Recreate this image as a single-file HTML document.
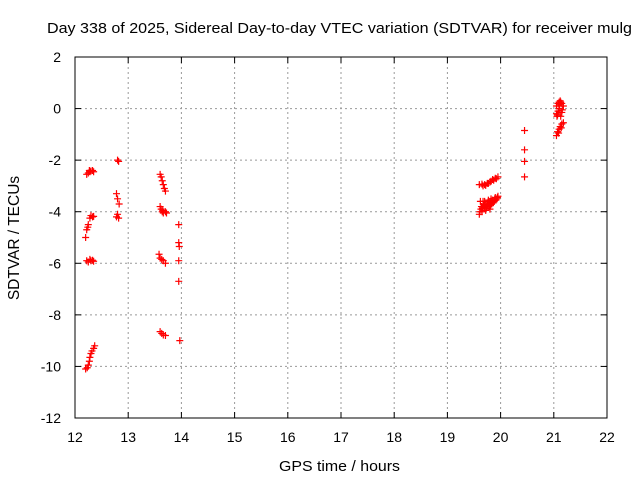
<!DOCTYPE html>
<html><head><meta charset="utf-8"><style>
body{margin:0;background:#fff}
svg{display:block;font-family:"Liberation Sans",sans-serif}
</style></head><body>
<svg id="c" width="640" height="480">
<text x="47" y="33" font-size="15" textLength="585" lengthAdjust="spacingAndGlyphs">Day 338 of 2025, Sidereal Day-to-day VTEC variation (SDTVAR) for receiver mulg</text>
<text x="279" y="471" font-size="15" textLength="121" lengthAdjust="spacingAndGlyphs">GPS time / hours</text>
<text transform="translate(19,238) rotate(-90)" text-anchor="middle" font-size="15.5">SDTVAR / TECUs</text>
<g id="grid"></g><g id="ticks"></g><g id="pts"></g>
<rect x="75" y="57" width="532" height="361" fill="none" stroke="#000" stroke-width="1"/>
</svg>
<script>
const xTicks=[12,13,14,15,16,17,18,19,20,21,22];
const yTicks=[2,0,-2,-4,-6,-8,-10,-12];
const xs=[12.22,12.25,12.28,12.3,12.33,12.35,12.27,
12.28,12.3,12.33,12.35,12.25,12.22,12.2,12.24,
12.22,12.25,12.28,12.3,12.33,12.35,
12.2,12.23,12.25,12.27,12.28,12.3,12.32,12.35,12.37,
12.8,12.82,12.78,12.8,12.83,12.8,12.82,12.78,
13.6,13.62,13.64,13.66,13.68,13.7,
13.6,13.62,13.64,13.66,13.7,13.72,13.65,
13.58,13.6,13.63,13.66,13.7,
13.6,13.63,13.66,13.7,
13.95,13.95,13.96,13.95,13.95,13.97,
19.6,19.65,19.7,19.75,19.8,19.85,19.9,19.95,19.67,19.72,19.77,19.82,19.87,19.92,
19.6,19.63,19.65,19.68,19.7,19.72,19.75,19.78,19.8,19.83,19.85,19.88,19.9,19.93,19.95,19.62,19.7,19.8,
19.61,19.64,19.66,19.69,19.71,19.74,19.76,19.79,19.81,19.84,19.86,19.89,19.91,19.94,19.67,19.73,19.77,19.82,
20.45,20.45,20.45,20.45,
21.05,21.08,21.1,21.12,21.15,21.05,21.08,21.1,21.13,21.15,21.18,21.06,21.11,21.16,21.07,21.13,
21.05,21.07,21.1,21.12,21.15,21.18,21.09,21.14];
const ys=[-2.55,-2.5,-2.45,-2.42,-2.4,-2.45,-2.4,
-4.25,-4.15,-4.2,-4.18,-4.5,-4.7,-5.0,-4.6,
-5.9,-5.95,-5.85,-5.9,-5.88,-5.92,
-10.1,-10.05,-9.95,-9.8,-9.65,-9.5,-9.4,-9.3,-9.2,
-2.0,-2.05,-3.3,-3.5,-3.7,-4.1,-4.25,-4.2,
-2.55,-2.65,-2.8,-2.95,-3.1,-3.2,
-3.8,-3.9,-4.0,-4.05,-4.0,-4.05,-3.95,
-5.65,-5.8,-5.85,-5.9,-6.0,
-8.65,-8.72,-8.78,-8.8,
-4.5,-5.2,-5.35,-5.9,-6.7,-9.0,
-2.95,-2.93,-2.95,-2.9,-2.85,-2.75,-2.7,-2.65,-3.0,-2.98,-2.9,-2.82,-2.78,-2.72,
-4.1,-3.9,-4.0,-3.7,-3.85,-3.95,-3.7,-3.8,-3.6,-3.7,-3.55,-3.6,-3.45,-3.5,-3.4,-3.6,-3.6,-3.9,
-4.0,-3.8,-3.85,-3.75,-3.75,-3.8,-3.65,-3.7,-3.75,-3.6,-3.65,-3.5,-3.55,-3.45,-3.6,-3.85,-3.55,-3.5,
-0.85,-1.6,-2.05,-2.65,
0.1,0.2,0.25,0.3,0.2,-0.2,-0.1,0,-0.3,-0.15,0.1,-0.3,0.15,-0.05,-0.25,0.25,
-1.05,-0.9,-0.8,-0.7,-0.6,-0.55,-0.95,-0.75];
const L=75,R=607,T=57,B=418;
const sx=v=>L+(v-12)/10*(R-L), sy=v=>T+(2-v)/14*(B-T);
const NS='http://www.w3.org/2000/svg';
const g=document.getElementById('grid'),tk=document.getElementById('ticks'),p=document.getElementById('pts');
function mk(tag,a,parent){const e=document.createElementNS(NS,tag);for(const k in a)e.setAttribute(k,a[k]);parent.appendChild(e);return e;}
xTicks.forEach(v=>{const x=sx(v);
 if(v>12&&v<22){const l=mk('line',{x1:x,x2:x,y1:T,y2:B,stroke:'#999','stroke-dasharray':'2,3'},g);
 
 }
 mk('line',{x1:x,x2:x,y1:B,y2:B-6,stroke:'#000'},tk);mk('line',{x1:x,x2:x,y1:T,y2:T+6,stroke:'#000'},tk);
 const t=mk('text',{x:x,y:B+24,'text-anchor':'middle','font-size':14},tk);t.textContent=v;
 
 });
yTicks.forEach(v=>{const y=sy(v);
 if(v<2&&v>-12){const l=mk('line',{x1:L,x2:R,y1:y,y2:y,stroke:'#999','stroke-dasharray':'2,3'},g);
 
 }
 mk('line',{x1:L,x2:L+6,y1:y,y2:y,stroke:'#000'},tk);mk('line',{x1:R,x2:R-6,y1:y,y2:y,stroke:'#000'},tk);
 const t=mk('text',{x:L-14,y:y+5,'text-anchor':'end','font-size':14},tk);t.textContent=v;
 
 });
xs.forEach((v,i)=>{const x=sx(v),y=sy(ys[i]);
 const e=mk('path',{d:`M${x-3.5},${y}H${x+3.5}M${x},${y-3.5}V${y+3.5}`,stroke:'#f00','stroke-width':1.2,fill:'none'},p);
 
 });
</script>
</body></html>
